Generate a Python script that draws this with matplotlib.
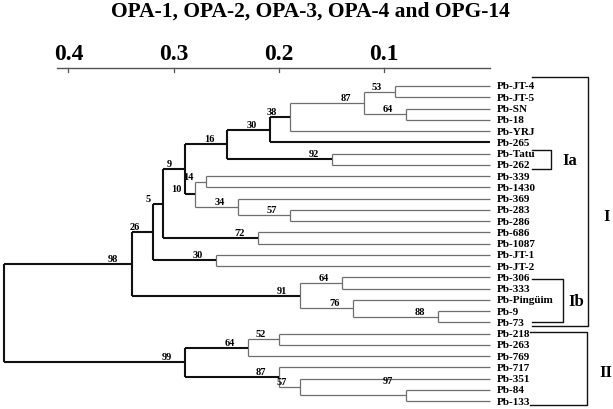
import matplotlib
matplotlib.use("Agg")
import matplotlib.pyplot as plt

# leaves, top to bottom
leaves = ["Pb-JT-4", "Pb-JT-5", "Pb-SN", "Pb-18", "Pb-YRJ", "Pb-265", "Pb-Tatu",
          "Pb-262", "Pb-339", "Pb-1430", "Pb-369", "Pb-283", "Pb-286", "Pb-686",
          "Pb-1087", "Pb-JT-1", "Pb-JT-2", "Pb-306", "Pb-333", "Pb-Pingüim",
          "Pb-9", "Pb-73", "Pb-218", "Pb-263", "Pb-769", "Pb-717", "Pb-351",
          "Pb-84", "Pb-133"]

# internal nodes: name, children, height (distance), bootstrap support
node_names = ["root", "A", "B", "C", "E", "G", "K", "L", "M", "N", "O", "T",
              "H", "P", "Q", "R", "F", "D", "S", "U", "V", "W",
              "X", "Y", "AA", "Z", "AB", "AC"]
node_children = [("A", "X"), ("B", "S"), ("C", "D"), ("E", "F"), ("G", "H"),
                 ("K", "T"), ("L", "Pb-265"), ("M", "Pb-YRJ"), ("N", "O"),
                 ("Pb-JT-4", "Pb-JT-5"), ("Pb-SN", "Pb-18"), ("Pb-Tatu", "Pb-262"),
                 ("P", "Q"), ("Pb-339", "Pb-1430"), ("Pb-369", "R"),
                 ("Pb-283", "Pb-286"), ("Pb-686", "Pb-1087"), ("Pb-JT-1", "Pb-JT-2"),
                 ("U", "V"), ("Pb-306", "Pb-333"), ("Pb-Pingüim", "W"), ("Pb-9", "Pb-73"),
                 ("Y", "Z"), ("AA", "Pb-769"), ("Pb-218", "Pb-263"),
                 ("Pb-717", "AB"), ("Pb-351", "AC"), ("Pb-84", "Pb-133")]
node_heights = [0.461, 0.340, 0.320, 0.310, 0.289, 0.249, 0.209, 0.190, 0.119,
                0.090, 0.079, 0.150, 0.280, 0.269, 0.239, 0.190, 0.220, 0.260,
                0.180, 0.140, 0.130, 0.049, 0.289, 0.229, 0.200, 0.200, 0.180, 0.079]
node_support = [None, 98, 26, 5, 9, 16, 30, 38, 87, 53, 64, 92, 10, 14, 34, 57,
                72, 30, 91, 64, 76, 88, 99, 64, 52, 87, 57, 97]

# ticks of the distance scale
scale_ticks = [0.4, 0.3, 0.2, 0.1]

# nodes whose branches are drawn heavy
backbone = {"root", "A", "B", "C", "E", "G", "K", "X"}

SERIF = ["Liberation Serif", "DejaVu Serif"]
DARK = "#111111"
LIGHT = "#6e6e6e"

children = dict(zip(node_names, node_children))
heights = dict(zip(node_names, node_heights))
support = dict(zip(node_names, node_support))
leaf_y = {name: i for i, name in enumerate(leaves)}

fig = plt.figure(figsize=(6.13, 4.10), dpi=100)
ax = fig.add_axes([0, 0, 1, 1])
ax.set_xlim(0.465, -0.1172)
ax.set_ylim(28.71, -7.733)
ax.axis("off")


def draw(node):
    """returns y of node, draws its subtree"""
    if node in leaf_y:
        return leaf_y[node]
    h = heights[node]
    heavy = node in backbone
    col, lw = (DARK, 1.5) if heavy else (LIGHT, 0.9)
    ys = []
    for ch in children[node]:
        y = draw(ch)
        ch_h = heights.get(ch, 0.0)
        ax.plot([h, ch_h], [y, y], color=col, lw=lw, solid_capstyle="butt")
        ys.append(y)
    ax.plot([h, h], [ys[0], ys[1]], color=col, lw=lw, solid_capstyle="butt")
    ym = (ys[0] + ys[1]) / 2
    if support[node] is not None:
        off = (-13, 1) if node != "AC" else (-13, 10)
        ax.annotate(str(support[node]), xy=(h, ym), xytext=off,
                    textcoords="offset pixels", ha="right", va="bottom",
                    fontsize=7.5, fontweight="bold", family=SERIF)
    return ym


draw("root")

# leaf labels
for name, y in leaf_y.items():
    ax.text(-0.007, y, name, ha="left", va="center", fontsize=8,
            fontweight="bold", family=SERIF)

# distance scale on top
ax.plot([0.411, 0.0], [-1.6, -1.6], color="#555555", lw=1.0)
for t in scale_ticks:
    ax.plot([t, t], [-1.6, -1.25], color="#555555", lw=0.9)
    ax.text(t, -2.85, f"{t:.1f}", ha="center", va="center", fontsize=17,
            fontweight="bold", family=SERIF)

# group brackets
def bracket(x0, x1, y0, y1):
    ax.plot([x0, x1, x1, x0], [y0, y0, y1, y1], color=DARK, lw=1.0)

bracket(-0.040, -0.058, 5.69, 7.38)
bracket(-0.040, -0.0936, -0.8, 21.33)
bracket(-0.040, -0.070, 17.16, 20.98)
bracket(-0.038, -0.0926, 21.87, 28.36)
for lab, x, y in [("Ia", -0.0764, 6.58), ("Ib", -0.082, 19.11),
                  ("I", -0.1115, 11.56), ("II", -0.1106, 25.42)]:
    ax.text(x, y, lab, ha="center", va="center", fontsize=12,
            fontweight="bold", family=SERIF)

fig.text(0.506, 0.972, "OPA-1, OPA-2, OPA-3, OPA-4 and OPG-14", ha="center",
         va="center", fontsize=15.5, fontweight="bold", family=SERIF)

fig.savefig("out.png", dpi=100)
